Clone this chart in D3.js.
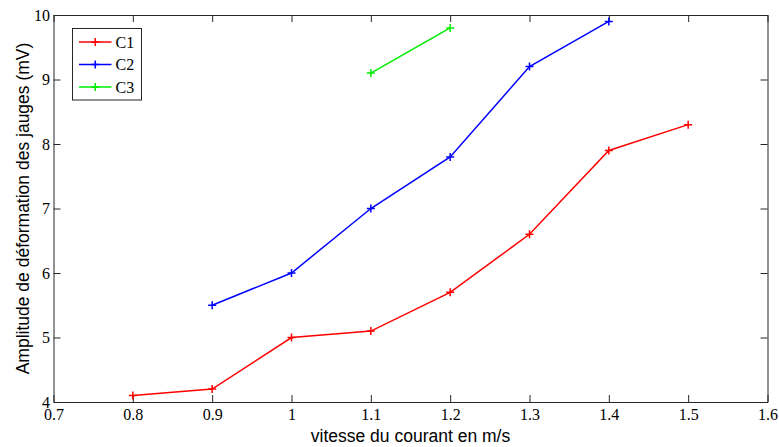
<!DOCTYPE html>
<meta charset="utf-8">
<style>
	body { margin: 0; background: #fff; }
	.axis path, .axis line { stroke: #262626; }
</style>
<body>
<svg id="chart" width="779" height="447"></svg>
<script src="https://d3js.org/d3.v7.min.js"></script>
<script>
	var xTicks = [0.7, 0.8, 0.9, 1, 1.1, 1.2, 1.3, 1.4, 1.5, 1.6];
	var yTicks = [4, 5, 6, 7, 8, 9, 10];

	var c1x = [0.8, 0.9, 1.0, 1.1, 1.2, 1.3, 1.4, 1.5];
	var c1y = [4.1, 4.2, 5.0, 5.1, 5.7, 6.6, 7.9, 8.3];
	var c2x = [0.9, 1.0, 1.1, 1.2, 1.3, 1.4];
	var c2y = [5.5, 6.0, 7.0, 7.8, 9.2, 9.9];
	var c3x = [1.1, 1.2];
	var c3y = [9.1, 9.8];

	var seriesNames = ["C1", "C2", "C3"];
	var seriesColors = ["#ff0000", "#0000ff", "#00ee00"];

	var series = [
		{ name: seriesNames[0], color: seriesColors[0], pts: c1x.map(function(v, i) { return [v, c1y[i]]; }) },
		{ name: seriesNames[1], color: seriesColors[1], pts: c2x.map(function(v, i) { return [v, c2y[i]]; }) },
		{ name: seriesNames[2], color: seriesColors[2], pts: c3x.map(function(v, i) { return [v, c3y[i]]; }) }
	];

	var serif = "'Liberation Serif', 'Times New Roman', serif";
	var sans = "'Liberation Sans', Arial, sans-serif";

	var svg = d3.select("#chart"),
	margin = {top: 15, right: 11.5, bottom: 45, left: 53.5},
	width = +svg.attr("width") - margin.left - margin.right,
	height = +svg.attr("height") - margin.top - margin.bottom;

	var x = d3.scaleLinear().domain([0.7, 1.6]).range([0, width]);
	var y = d3.scaleLinear().domain([4, 10]).range([height, 0]);

	var g = svg.append("g").attr("transform", "translate(" + margin.left + "," + margin.top + ")");

	var tk = 7;
	var fmt = function(d) { return String(+d.toFixed(1)); };

	var xa = g.append("g").attr("class", "axis")
	.attr("transform", "translate(0," + height + ")")
	.call(d3.axisBottom(x).tickValues(xTicks).tickFormat(fmt).tickSizeInner(-tk).tickSizeOuter(0));
	xa.selectAll("text").attr("y", 18).attr("dy", null);

	g.append("g").attr("class", "axis")
	.call(d3.axisTop(x).tickValues(xTicks).tickFormat("").tickSizeInner(-tk).tickSizeOuter(0));

	var ya = g.append("g").attr("class", "axis")
	.call(d3.axisLeft(y).tickValues(yTicks).tickFormat(d3.format("d")).tickSizeInner(-tk).tickSizeOuter(0));
	ya.selectAll("text").attr("x", -3.5).attr("dy", "0.33em");

	g.append("g").attr("class", "axis")
	.attr("transform", "translate(" + width + ",0)")
	.call(d3.axisRight(y).tickValues(yTicks).tickFormat("").tickSizeInner(-tk).tickSizeOuter(0));

	g.selectAll(".axis").attr("font-family", serif).attr("font-size", 16);
	g.selectAll(".axis text").attr("fill", "#000");

	var line = d3.line().x(function(d) { return x(d[0]); }).y(function(d) { return y(d[1]); });

	var sg = g.selectAll(".serie").data(series).enter().append("g").attr("class", "serie");

	sg.append("path")
	.attr("d", function(d) { return line(d.pts); })
	.attr("fill", "none")
	.attr("stroke", function(d) { return d.color; })
	.attr("stroke-width", 1.5);

	var m = 4;
	sg.selectAll(".mk").data(function(d) { return d.pts.map(function(p) { return {p: p, c: d.color}; }); })
	.enter().append("path")
	.attr("d", function(d) {
		var cx = x(d.p[0]), cy = y(d.p[1]);
		return "M" + (cx - m) + "," + cy + "H" + (cx + m) + "M" + cx + "," + (cy - m) + "V" + (cy + m);
	})
	.attr("stroke", function(d) { return d.c; })
	.attr("stroke-width", 1.5);

	// legend
	var lg = g.append("g").attr("transform", "translate(" + (72.5 - margin.left) + "," + (28.5 - margin.top) + ")");
	lg.append("rect").attr("width", 69).attr("height", 71.5).attr("fill", "#fff").attr("stroke", "#262626");
	var row = lg.selectAll(".row").data(series).enter().append("g")
	.attr("transform", function(d, i) { return "translate(0," + (13.5 + i * 22.5) + ")"; });
	row.append("line").attr("x1", 6.5).attr("x2", 39).attr("stroke", function(d) { return d.color; }).attr("stroke-width", 1.5);
	row.append("path").attr("d", "M18.75,0H26.75M22.75,-4V4").attr("stroke", function(d) { return d.color; }).attr("stroke-width", 1.5);
	row.append("text").attr("x", 43).attr("dy", "0.35em")
	.attr("font-family", serif).attr("font-size", 16)
	.text(function(d) { return d.name; });

	svg.append("text")
	.attr("font-family", sans).attr("font-size", 17.5)
	.attr("x", margin.left + width / 2).attr("y", 442)
	.attr("text-anchor", "middle")
	.text("vitesse du courant en m/s");

	svg.append("text")
	.attr("font-family", sans).attr("font-size", 17.5)
	.attr("transform", "translate(29," + (margin.top + height / 2) + ") rotate(-90)")
	.attr("text-anchor", "middle")
	.text("Amplitude de déformation des jauges (mV)");
</script>
</body>
